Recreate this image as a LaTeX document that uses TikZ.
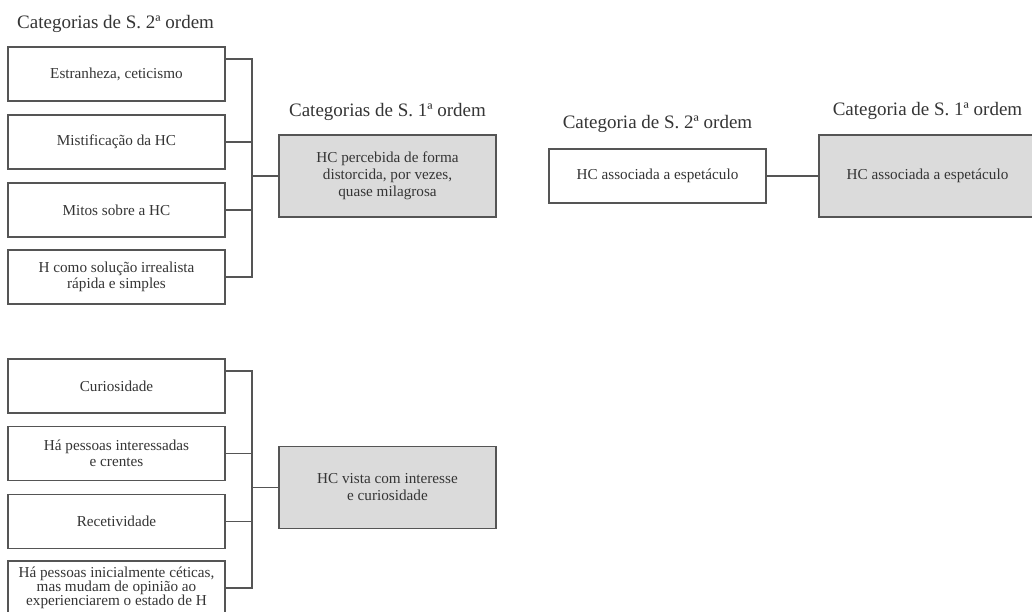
\documentclass[tikz,border=0pt]{standalone}
\usepackage{fontspec}
\setmainfont{Liberation Serif}
\definecolor{linegray}{HTML}{555555}
\definecolor{boxgray}{HTML}{DBDBDB}
\definecolor{inkgray}{HTML}{353535}
\tikzset{
  cat2/.style={draw=linegray, line width=1.6pt, fill=white, text=inkgray,
    minimum width=217pt, minimum height=54pt, inner sep=0pt, align=center,
    font=\fontsize{15.2}{16.5}\selectfont},
  cat1/.style={draw=linegray, line width=1.6pt, fill=boxgray, text=inkgray,
    minimum width=217pt, minimum height=82pt, inner sep=0pt, align=center,
    font=\fontsize{15.2}{17}\selectfont},
  heading/.style={text=inkgray, inner sep=0pt, anchor=base,
    font=\fontsize{19}{22}\selectfont},
  link/.style={draw=linegray, line width=1.6pt}
}
\begin{document}
\begin{tikzpicture}[x=1pt, y=-1pt]
\clip (0,0) rectangle (1032,612);
\fill[white] (0,0) rectangle (1032,612);

% headings
\node[heading, anchor=base west] (h1) at (17,29) {Categorias de S. 2ª ordem};
\node[heading] (h2) at (387.5,117) {Categorias de S. 1ª ordem};
\node[heading] (h3) at (657.5,129) {Categoria de S. 2ª ordem};
\node[heading] (h4) at (927.5,116) {Categoria de S. 1ª ordem};

% first group
\node[cat2] (b1) at (116.5,74) {Estranheza, ceticismo};
\node[cat2] (b2) at (116.5,142) {Mistificação da HC};
\node[cat2] (b3) at (116.5,210) {Mitos sobre a HC};
\node[cat2] (b4) at (116.5,277) {H como solução irrealista\\rápida e simples};
\node[cat1] (g1) at (387.5,176) {HC percebida de forma\\distorcida, por vezes,\\quase milagrosa};

\coordinate (ja) at (252,176);
\draw[link] ([yshift=-13pt]b1.north east) -| (ja |- b4.east) -- (b4.east);
\draw[link] (b2.east) -- (ja |- b2.east);
\draw[link] (b3.east) -- (ja |- b3.east);
\draw[link] (ja) -- (g1.west);

% second group
\node[cat2] (b5) at (116.5,386) {Curiosidade};
\node[cat2] (b6) at (116.5,453.5) {Há pessoas interessadas\\e crentes};
\node[cat2] (b7) at (116.5,521.5) {Recetividade};
\node[cat2, font=\fontsize{15.2}{14}\selectfont] (b8) at (116.5,588)
  {Há pessoas inicialmente céticas,\\mas mudam de opinião ao\\experienciarem o estado de H};
\node[cat1] (g2) at (387.5,487.5) {HC vista com interesse\\e curiosidade};

\coordinate (jb) at (252,487.5);
\draw[link] ([yshift=-13pt]b5.north east) -| (jb |- b8.east) -- (b8.east);
\draw[link] (b6.east) -- (jb |- b6.east);
\draw[link] (b7.east) -- (jb |- b7.east);
\draw[link] (jb) -- (g2.west);

% right pair
\node[cat2] (b9) at (657.5,176) {HC associada a espetáculo};
\node[cat1] (g3) at (927.5,176) {HC associada a espetáculo};
\draw[link] (b9.east) -- (g3.west);
\end{tikzpicture}
\end{document}
